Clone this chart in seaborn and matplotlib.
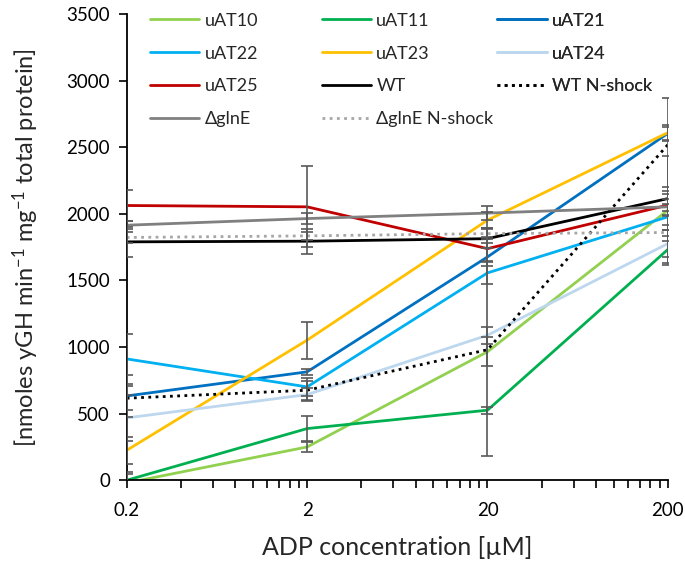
import numpy as np
import pandas as pd
import matplotlib
matplotlib.use("Agg")
import matplotlib.pyplot as plt
import matplotlib.ticker as mticker
import seaborn as sns

# ADP concentrations (uM)
adp = [0.2, 2, 20, 200]

strains = ["uAT10", "uAT11", "uAT21", "uAT22", "uAT23", "uAT24", "uAT25",
           "WT", "WT N-shock", "\u0394glnE", "\u0394glnE N-shock"]

uat10 = [-20, 250, 965, 2028]
uat11 = [0, 388, 526, 1733]
uat21 = [633, 814, 1677, 2605]
uat22 = [911, 701, 1557, 1978]
uat23 = [225, 1052, 1953, 2610]
uat24 = [468, 643, 1089, 1777]
uat25 = [2063, 2053, 1739, 2066]
wt = [1790, 1795, 1814, 2115]
wt_nshock = [616, 676, 980, 2520]
glne = [1915, 1965, 2006, 2053]
glne_nshock = [1823, 1835, 1852, 1860]

# standard deviations
uat10_sd = [65, 40, 110, 410]
uat11_sd = [65, 95, 25, 100]
uat21_sd = [155, 25, 70, 50]
uat22_sd = [190, 65, 80, 100]
uat23_sd = [100, 140, 60, 60]
uat24_sd = [170, 50, 65, 100]
uat25_sd = [120, 305, 90, 80]
wt_sd = [110, 95, 70, 90]
wt_nshock_sd = [90, 70, 800, 350]
glne_sd = [30, 40, 53, 60]
glne_nshock_sd = [40, 30, 40, 60]

values = [uat10, uat11, uat21, uat22, uat23, uat24, uat25, wt, wt_nshock, glne, glne_nshock]
errors = [uat10_sd, uat11_sd, uat21_sd, uat22_sd, uat23_sd, uat24_sd, uat25_sd,
          wt_sd, wt_nshock_sd, glne_sd, glne_nshock_sd]

colors = ["#92D050", "#00B050", "#0070C0", "#00B0F0", "#FFC000", "#BDD7EE",
          "#C00000", "#000000", "#000000", "#808080", "#A6A6A6"]
styles = ["-", "-", "-", "-", "-", "-", "-", "-", (0, (1, 1.6)), "-", (0, (1, 1.6))]

df = pd.DataFrame({
    "adp": np.tile(adp, len(strains)),
    "strain": np.repeat(strains, len(adp)),
    "value": np.concatenate(values),
    "sd": np.concatenate(errors),
})

sns.set_style("ticks")
plt.rcParams["font.family"] = ["Lato", "DejaVu Sans"]
plt.rcParams["mathtext.default"] = "regular"

fig, ax = plt.subplots(figsize=(6.85, 5.65), dpi=100)
fig.subplots_adjust(left=0.185, right=0.975, bottom=0.150, top=0.975)

handles = []
for name, col, ls in zip(strains, colors, styles):
    d = df[df["strain"] == name]
    sns.lineplot(data=d, x="adp", y="value", color=col, linewidth=2.0,
                 ax=ax, legend=False, zorder=2)
    line = ax.lines[-1]
    line.set_linestyle(ls)
    line.set_label(name)
    handles.append(line)

# error bars
ax.errorbar(df["adp"], df["value"], yerr=df["sd"], fmt="none",
            ecolor="#595959", elinewidth=1.2, capsize=4, capthick=1.2, zorder=3)

ax.set_xscale("log")
ax.set_xlim(0.2, 200)
ax.set_ylim(0, 3500)
ax.xaxis.set_major_locator(mticker.FixedLocator(adp))
ax.xaxis.set_major_formatter(mticker.FixedFormatter(["0.2", "2", "20", "200"]))
minor = [0.2 * k * 10 ** n for n in range(3) for k in range(2, 10)]
ax.xaxis.set_minor_locator(mticker.FixedLocator(minor))
ax.xaxis.set_minor_formatter(mticker.NullFormatter())
ax.set_yticks(np.arange(0, 3501, 500))

ax.tick_params(axis="both", which="major", labelsize=13.5, length=6, width=1.2,
               color="black", labelcolor="black")
ax.tick_params(axis="x", which="minor", length=6, width=1.2, color="black")
ax.tick_params(axis="x", pad=10)
ax.tick_params(axis="y", pad=6)
for s in ["left", "bottom"]:
    ax.spines[s].set_linewidth(1.3)
    ax.spines[s].set_color("black")
sns.despine(ax=ax)

ax.set_xlabel("ADP concentration [\u00b5M]", fontsize=18, labelpad=12)
ax.set_ylabel("[nmoles yGH min$^{-1}$ mg$^{-1}$ total protein]", fontsize=17,
              labelpad=18)

# legend laid out in three columns like the original
groups = [[0, 3, 6, 9], [1, 4, 7, 10], [2, 5, 8]]
xs = [0.0425, 0.360, 0.684]
for g, x0 in zip(groups, xs):
    leg = ax.legend([handles[i] for i in g], [strains[i] for i in g],
                    loc="upper left", bbox_to_anchor=(x0, 1.003),
                    frameon=False, fontsize=13, handlelength=2.75,
                    handletextpad=0.28, borderpad=0, borderaxespad=0,
                    labelspacing=0.93)
    ax.add_artist(leg)

fig.savefig("out.png", dpi=100)
